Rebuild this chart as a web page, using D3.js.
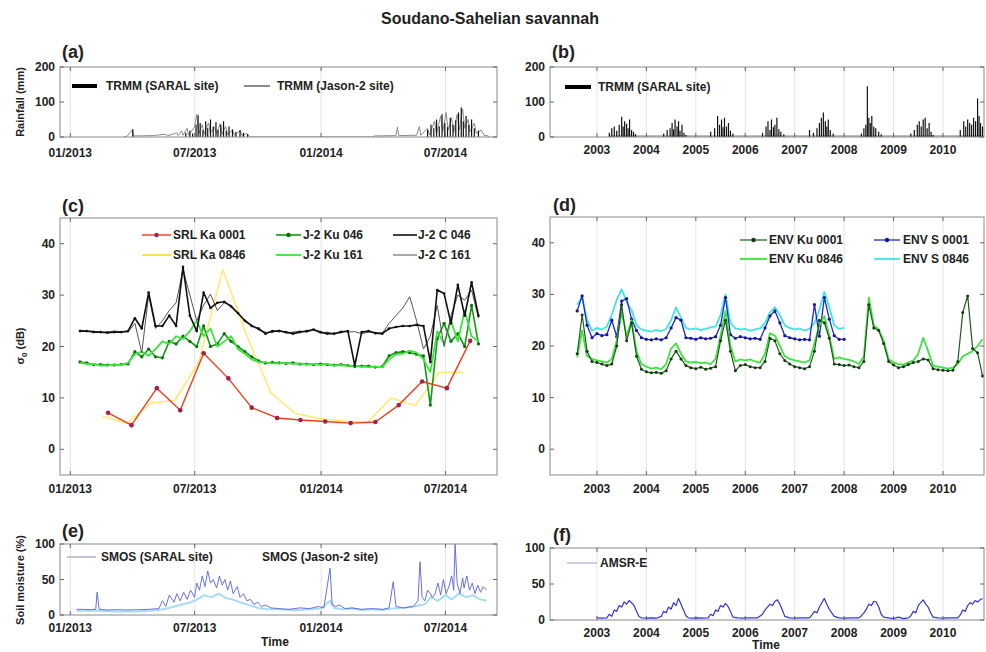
<!DOCTYPE html>
<html>
<head>
<meta charset="utf-8">
<script src="https://cdn.jsdelivr.net/npm/d3@7"></script>
<style>
  body { margin: 0; background: #fff; }
  text { font-family: "Liberation Sans", Arial, sans-serif; font-weight: bold; fill: #222; }
</style>
</head>
<body>
<svg width="986" height="652"></svg>
<script>
// ---------- data ----------
// (a) TRMM daily rainfall (mm), SARAL site (stems) and Jason-2 site (line)
var rainSaral = [
  ["2013-04-02",22],["2013-06-18",12],["2013-06-24",18],["2013-06-28",10],["2013-07-03",35],["2013-07-06",62],
  ["2013-07-09",40],["2013-07-13",20],["2013-07-17",45],["2013-07-20",25],["2013-07-24",50],["2013-07-28",30],
  ["2013-08-01",42],["2013-08-04",20],["2013-08-08",35],["2013-08-12",45],["2013-08-16",18],["2013-08-20",30],
  ["2013-08-25",22],["2013-08-30",15],["2013-09-05",20],["2013-09-10",12],["2013-09-16",8],
  ["2014-06-05",20],["2014-06-10",35],["2014-06-14",25],["2014-06-18",50],["2014-06-22",30],["2014-06-26",65],
  ["2014-06-30",40],["2014-07-04",28],["2014-07-08",55],["2014-07-12",35],["2014-07-16",48],["2014-07-20",70],
  ["2014-07-24",84],["2014-07-27",45],["2014-07-31",60],["2014-08-04",35],["2014-08-08",50],["2014-08-12",25],
  ["2014-08-18",18]
];
var rainJason = [
  ["2013-03-20",0],["2013-03-25",3],["2013-04-01",20],["2013-04-03",3],["2013-05-01",4],["2013-05-20",8],
  ["2013-05-22",3],["2013-06-05",12],["2013-06-07",4],["2013-06-12",18],["2013-06-14",5],["2013-06-20",25],
  ["2013-06-22",5],["2013-07-01",30],["2013-07-04",65],["2013-07-07",10],["2013-07-12",35],["2013-07-15",8],
  ["2013-07-21",40],["2013-07-24",12],["2013-07-30",28],["2013-08-02",10],["2013-08-07",38],["2013-08-10",8],
  ["2013-08-15",30],["2013-08-18",6],["2013-08-25",20],["2013-08-28",5],["2013-09-05",18],["2013-09-08",4],
  ["2013-09-15",10],["2013-09-18",3],["2013-09-20",0],
  ["2014-03-15",0],["2014-03-20",3],["2014-04-20",4],["2014-04-22",28],["2014-04-24",4],["2014-05-20",5],
  ["2014-05-24",30],["2014-05-26",5],["2014-06-05",25],["2014-06-08",6],["2014-06-15",45],["2014-06-18",10],
  ["2014-06-24",60],["2014-06-27",15],["2014-07-02",70],["2014-07-05",20],["2014-07-10",55],["2014-07-13",12],
  ["2014-07-18",65],["2014-07-21",20],["2014-07-26",80],["2014-07-29",25],["2014-08-03",50],["2014-08-06",15],
  ["2014-08-12",40],["2014-08-15",10],["2014-08-22",20],["2014-08-26",5],["2014-09-01",3],["2014-09-03",0]
];

// (b) TRMM rainfall at SARAL site, 2002-2010 (decimal year, mm)
var rainLong = [
  [2003.25,12],[2003.3,25],[2003.35,30],[2003.4,18],[2003.45,35],[2003.5,58],[2003.53,30],[2003.56,45],[2003.6,38],[2003.63,25],[2003.66,50],[2003.7,20],[2003.74,15],[2003.78,8],
  [2004.35,10],[2004.42,20],[2004.48,25],[2004.52,40],[2004.55,22],[2004.58,50],[2004.62,30],[2004.65,45],[2004.68,18],[2004.72,35],[2004.76,12],[2004.8,6],
  [2005.3,15],[2005.38,25],[2005.44,60],[2005.48,35],[2005.52,50],[2005.55,28],[2005.58,55],[2005.62,30],[2005.66,40],[2005.7,18],[2005.75,10],
  [2006.35,12],[2006.42,30],[2006.46,45],[2006.5,20],[2006.53,50],[2006.57,28],[2006.6,35],[2006.64,55],[2006.68,22],[2006.72,15],[2006.78,8],
  [2007.3,20],[2007.38,12],[2007.45,25],[2007.5,40],[2007.54,55],[2007.58,70],[2007.62,45],[2007.65,30],[2007.68,50],[2007.72,20],[2007.78,10],
  [2008.35,10],[2008.4,25],[2008.44,35],[2008.47,145],[2008.5,55],[2008.53,40],[2008.56,60],[2008.6,30],[2008.64,25],[2008.7,15],[2008.75,8],
  [2009.35,10],[2009.42,20],[2009.48,35],[2009.52,45],[2009.56,30],[2009.6,50],[2009.64,55],[2009.68,25],[2009.72,40],[2009.76,15],[2009.8,6],
  [2010.35,20],[2010.42,45],[2010.46,30],[2010.5,50],[2010.54,40],[2010.58,35],[2010.62,55],[2010.66,45],[2010.7,110],[2010.73,60],[2010.76,40],[2010.8,30]
];

// (c) backscatter sigma0 (dB)
var srlDates0001 = ["2013-02-25","2013-03-31","2013-05-07","2013-06-10","2013-07-14","2013-08-19","2013-09-22","2013-10-29",
  "2013-12-02","2014-01-07","2014-02-13","2014-03-21","2014-04-24","2014-05-28","2014-07-03","2014-08-06"];
var srlKa0001 = [7.1,4.7,11.9,7.6,18.7,13.8,8.1,6.1,5.7,5.4,5.1,5.3,8.6,13.2,11.9,21.1];
var srlDates0846 = ["2013-02-17","2013-03-24","2013-04-28","2013-06-02","2013-07-07","2013-08-11","2013-09-15","2013-10-20",
  "2013-11-24","2013-12-29","2014-02-02","2014-03-09","2014-04-13","2014-05-18","2014-06-22","2014-07-27"];
var srlKa0846 = [6.5,5,9,9.5,17,35,22,11,7,6,5.5,5.2,10,8.5,15,15];

var j2Dates = ["2013-01-15","2013-01-25","2013-02-04","2013-02-14","2013-02-24","2013-03-06","2013-03-16","2013-03-26",
  "2013-04-05","2013-04-15","2013-04-25","2013-05-05","2013-05-15","2013-05-25","2013-06-04","2013-06-14","2013-06-24",
  "2013-07-04","2013-07-14","2013-07-24","2013-08-03","2013-08-13","2013-08-23","2013-09-02","2013-09-12","2013-09-22",
  "2013-10-02","2013-10-12","2013-10-22","2013-11-01","2013-11-11","2013-11-21","2013-12-01","2013-12-11","2013-12-21",
  "2013-12-31","2014-01-10","2014-01-20","2014-01-30","2014-02-09","2014-02-19","2014-03-01","2014-03-11","2014-03-21",
  "2014-03-31","2014-04-10","2014-04-20","2014-04-30","2014-05-10","2014-05-20","2014-05-30","2014-06-09","2014-06-19",
  "2014-06-29","2014-07-09","2014-07-19","2014-07-29","2014-08-08","2014-08-18"];
var j2Ku046 = [17,16.8,16.5,16.5,16.4,16.4,16.5,16.6,19,18,19.5,18,17.8,21,20.5,22,21,20,24,20,20.5,22.5,21,20,19,18,
  17.2,16.8,16.9,16.8,16.7,16.8,16.6,16.6,16.5,16.6,16.5,16.4,16.5,16.3,16.1,16.2,16.2,16,16.1,18.2,18.8,19,18.8,18.5,
  18.2,8.6,21.5,24.5,21,22.5,20,28,20.5];
var j2Ku161 = [16.8,16.6,16.6,16.3,16.3,16.5,16.4,16.8,18.5,19,18.2,19.5,21,20.5,22,21.5,23,25,22,23.5,20,21,22,19.5,
  18.6,17.5,17,16.9,16.7,16.7,16.8,16.6,16.7,16.5,16.6,16.4,16.6,16.3,16.4,16.2,16.2,16.1,16,16.1,16,17.5,18.5,18.6,
  19.2,18.8,17.5,15,23,20.5,25,21,27,22,21];
var j2C046 = [23,23,22.8,22.8,22.7,22.8,22.8,23,25.5,23.5,30.5,24,24,26,24,35.5,26,23,30.5,27.5,28.5,28.7,27.8,26.5,
  25,24,23.5,22.5,23,23,22.8,22.5,22.8,23,23.3,22.8,22.5,22.5,22.8,23,16.3,22.8,23,22.6,22.5,23.5,23.8,24,24,24.2,24,
  17,31,30.3,24.5,32,26,32.5,26];
var j2C161 = [23.2,23,23,22.7,22.8,23,22.9,22.8,24.5,18.8,30,23.5,25,27,28.5,35,30,25,28,30.2,27,28.5,28,26.3,25.2,
  24.2,23.2,22.8,22.7,23.2,22.6,22.8,23,22.8,23.2,22.6,22.8,22.4,23,22.8,22.9,22.5,22.8,22.7,22.6,24.5,26,27.5,29.7,
  25,19.5,22,28,20,26,30,29,31,25.5];

// (d) ENVISAT, one value per 35-day cycle (decimal year)
var envYears = [2002.6,2002.7,2002.8,2002.9,
  2003.0,2003.1,2003.2,2003.3,2003.4,2003.5,2003.6,2003.7,2003.8,2003.9,
  2004.0,2004.1,2004.2,2004.3,2004.4,2004.5,2004.6,2004.7,2004.8,2004.9,
  2005.0,2005.1,2005.2,2005.3,2005.4,2005.5,2005.6,2005.7,2005.8,2005.9,
  2006.0,2006.1,2006.2,2006.3,2006.4,2006.5,2006.6,2006.7,2006.8,2006.9,
  2007.0,2007.1,2007.2,2007.3,2007.4,2007.5,2007.6,2007.7,2007.8,2007.9,
  2008.0,2008.1,2008.2,2008.3,2008.4,2008.5,2008.6,2008.7,2008.8,2008.9,
  2009.0,2009.1,2009.2,2009.3,2009.4,2009.5,2009.6,2009.7,2009.8,2009.9,
  2010.0,2010.1,2010.2,2010.3,2010.4,2010.5,2010.6,2010.7,2010.8];
var envKu0001 = [18.5,26,19,17,
  16.8,16.5,16.2,16.5,20,28,21,24.5,18,15.5,
  15,14.8,14.9,14.7,15.2,17.5,19,17.5,16.2,15.8,
  15.6,15.9,15.5,15.7,16,21,25,19,15.2,16.2,
  16.4,16,15.8,15.8,17,21.5,21,18.5,17.2,16.5,
  16,15.8,15.6,16,19,25,24.5,21.5,16.5,16.4,
  16.2,16.3,16,15.8,17,28,23.5,23,20.5,17,
  16.3,15.8,16,16.4,16.8,17,17.5,17.3,15.6,15.4,
  15.3,15.2,15.3,17,26.5,29.7,19.5,18.7,14.2];
var envKu0846 = [17.8,23,18,17.5,
  17.2,17,16.8,17.5,21,26.5,22,25,19,16.5,
  16,15.6,15.8,15.5,16.5,19.5,20.5,18.5,17,16.8,
  16.9,16.7,16.8,16.5,17.5,22,26.8,20,17,17.4,
  17.2,17.4,17,16.8,18.5,22.5,22,20,18,17.5,
  17.2,17,16.8,17.2,20.5,24,25.8,22,17.5,17.8,
  17.5,17.3,17,16.5,18,29.4,24,23.2,21,17.5,
  16.8,16.5,16.4,16.8,17.2,18.5,21.6,19,16.2,16,
  15.8,15.6,15.8,16.5,18,18.5,19,20,21.3];
var envS0001 = [26.8,29.7,24,21.6,
  22.4,22,22.2,25,21.8,28.7,29.2,25.2,23,21.6,
  21.3,21.2,21.4,21.2,21.6,23.5,25.5,25,21.6,21.5,
  21.3,21.6,21.4,21.5,21.8,24,29.4,22.2,21.5,21.8,
  21.6,21.4,21.5,21.3,23.5,25.8,26.8,24.5,22,21.6,
  21.4,21.2,21.3,21.2,28,21.9,29.4,25.2,22,21.3,
  21.3];
var envS0846 = [28,29.5,25,23,
  23.5,23.2,23.8,26,29,31,28.5,27,24,23.2,
  23,22.8,23.1,22.9,23.3,25,27.5,25.5,23.5,23.2,
  23.4,23.1,23.3,23.6,23.8,26,30,24.5,23.4,23.2,
  23.3,23,23.2,23.4,24.5,26.5,27.5,26,24,23.5,
  23.2,23.4,23,23.3,24.5,27,30.5,27.5,24,23.3,
  23.5];

// (e) SMOS soil moisture (%)
var smosSaral = [
  ["2013-01-10",8],["2013-01-20",8],["2013-01-30",7.5],["2013-02-07",8],["2013-02-09",32],["2013-02-12",8],["2013-02-25",7],
  ["2013-03-10",7.5],["2013-03-25",7],["2013-04-10",7.5],["2013-04-25",8],["2013-05-10",9],["2013-05-15",20],["2013-05-20",12],
  ["2013-05-25",28],["2013-06-01",18],["2013-06-05",30],["2013-06-10",20],["2013-06-15",32],["2013-06-20",22],["2013-06-25",35],
  ["2013-07-01",25],["2013-07-04",45],["2013-07-08",35],["2013-07-12",55],["2013-07-16",40],["2013-07-20",62],["2013-07-24",45],
  ["2013-07-28",50],["2013-08-02",38],["2013-08-06",55],["2013-08-10",42],["2013-08-14",50],["2013-08-18",35],["2013-08-22",48],
  ["2013-08-26",30],["2013-09-01",40],["2013-09-05",25],["2013-09-10",30],["2013-09-15",20],["2013-09-20",22],["2013-09-25",15],
  ["2013-10-01",18],["2013-10-06",12],["2013-10-12",14],["2013-10-20",10],["2013-11-01",9],["2013-11-15",8],["2013-12-01",10],
  ["2013-12-15",9],["2013-12-28",12],["2014-01-05",10],["2014-01-14",66],["2014-01-17",15],["2014-01-22",12],["2014-01-28",14],
  ["2014-02-05",9],["2014-02-15",10],["2014-03-01",8],["2014-03-15",9],["2014-04-01",8],["2014-04-10",10],["2014-04-16",47],
  ["2014-04-20",12],["2014-05-01",10],["2014-05-15",12],["2014-05-22",20],["2014-05-25",75],["2014-05-28",25],["2014-06-01",20],
  ["2014-06-05",35],["2014-06-09",30],["2014-06-12",25],["2014-06-16",30],["2014-06-20",45],["2014-06-24",28],["2014-06-28",50],
  ["2014-07-02",30],["2014-07-06",40],["2014-07-10",55],["2014-07-13",35],["2014-07-15",100],["2014-07-18",45],["2014-07-22",30],
  ["2014-07-26",52],["2014-07-28",38],["2014-08-01",55],["2014-08-05",35],["2014-08-09",45],["2014-08-13",30],["2014-08-17",42],
  ["2014-08-21",32],["2014-08-25",40],["2014-08-30",35]
];
var smosJason = [
  ["2013-01-10",6],["2013-02-10",6],["2013-03-10",5],["2013-04-10",5],["2013-05-10",7],["2013-05-25",10],["2013-06-10",14],
  ["2013-06-25",18],["2013-07-05",22],["2013-07-15",28],["2013-07-25",25],["2013-08-05",30],["2013-08-15",24],["2013-08-25",22],
  ["2013-09-05",18],["2013-09-15",15],["2013-10-01",10],["2013-10-15",8],["2013-11-01",8],["2013-11-15",7],["2013-12-01",7],
  ["2013-12-15",8],["2014-01-01",9],["2014-01-14",20],["2014-01-20",10],["2014-02-01",8],["2014-02-15",9],["2014-03-01",7],
  ["2014-03-15",8],["2014-04-01",7],["2014-04-15",9],["2014-05-01",10],["2014-05-15",12],["2014-06-01",15],["2014-06-10",25],
  ["2014-06-20",20],["2014-07-01",28],["2014-07-10",22],["2014-07-20",30],["2014-08-01",25],["2014-08-10",28],["2014-08-20",22],
  ["2014-08-30",20]
];

// (f) AMSR-E soil moisture (%), decimal year
var amsrE = [
  [2003.0,3],[2003.1,2.5],[2003.2,3],[2003.25,8],[2003.3,5],[2003.35,14],[2003.4,12],[2003.45,20],[2003.5,18],[2003.55,25],
  [2003.6,22],[2003.65,27],[2003.7,24],[2003.75,20],[2003.8,12],[2003.85,5],[2003.9,3],[2004.0,2.5],[2004.1,3],[2004.2,2.5],
  [2004.3,5],[2004.35,12],[2004.4,10],[2004.45,18],[2004.5,15],[2004.55,24],[2004.6,20],[2004.65,30],[2004.7,22],[2004.75,14],
  [2004.8,6],[2004.85,3],[2004.95,2.5],[2005.05,3],[2005.15,2.5],[2005.25,3],
  [2005.3,8],[2005.35,6],[2005.4,14],[2005.45,12],[2005.5,20],[2005.55,18],[2005.6,23],[2005.65,19],[2005.7,12],[2005.75,4],
  [2005.85,3],[2005.95,2.5],[2006.1,3],[2006.25,3],
  [2006.35,8],[2006.4,14],[2006.45,18],[2006.5,22],[2006.55,20],[2006.6,26],[2006.65,28],[2006.7,22],[2006.75,14],[2006.8,5],
  [2006.9,3],[2007.0,2.5],[2007.15,3],[2007.3,3],
  [2007.35,7],[2007.4,12],[2007.45,10],[2007.5,18],[2007.55,24],[2007.6,30],[2007.65,22],[2007.7,15],[2007.75,10],[2007.8,5],
  [2007.9,3],[2008.0,2.5],[2008.15,3],[2008.3,3],
  [2008.35,6],[2008.4,10],[2008.45,15],[2008.5,22],[2008.55,20],[2008.6,26],[2008.65,25],[2008.7,18],[2008.75,8],[2008.8,4],
  [2008.9,3],[2009.0,2],[2009.1,4],[2009.2,2],[2009.3,3],
  [2009.35,6],[2009.4,12],[2009.45,10],[2009.5,20],[2009.55,24],[2009.6,28],[2009.65,22],[2009.7,18],[2009.75,10],[2009.8,4],
  [2009.9,3],[2010.0,2.5],[2010.15,3],[2010.3,3],
  [2010.35,7],[2010.4,14],[2010.45,12],[2010.5,20],[2010.55,24],[2010.6,22],[2010.65,27],[2010.7,25],[2010.75,28],[2010.8,30]
];

// tick labels
var leftTicks = ["2013-01-01","2013-07-01","2014-01-01","2014-07-01"];
var rightTicks = [2003,2004,2005,2006,2007,2008,2009,2010];

// ---------- drawing ----------
var svg = d3.select("svg");
var parseDate = d3.timeParse("%Y-%m-%d");
var fmtMonth = d3.timeFormat("%m/%Y");

var xLeft = d3.scaleTime().domain([parseDate("2012-12-17"), parseDate("2014-09-14")]).range([60, 497]);
var xRight = d3.scaleLinear().domain([2002.05, 2010.83]).range([550, 984]);
var leftTickDates = leftTicks.map(parseDate);

function makePanel(name, x, y, xticks, xfmt, yticks, labelDy) {
  var xr = x.range(), yr = y.range();  // yr = [bottom, top]
  var g = svg.append("g").attr("class", "panel-" + name);
  svg.append("clipPath").attr("id", "clip-" + name).append("rect")
      .attr("x", xr[0]).attr("y", yr[1]).attr("width", xr[1] - xr[0]).attr("height", yr[0] - yr[1]);

  // faint vertical grid
  g.append("g").selectAll("line").data(xticks).enter().append("line")
      .attr("x1", function(d) { return x(d); }).attr("x2", function(d) { return x(d); })
      .attr("y1", yr[0]).attr("y2", yr[1])
      .attr("stroke", "#e4e4e4").attr("stroke-width", 1);

  var plot = g.append("g").attr("clip-path", "url(#clip-" + name + ")");
  var front = g.append("g");

  // box + ticks
  front.append("rect").attr("x", xr[0]).attr("y", yr[1]).attr("width", xr[1] - xr[0]).attr("height", yr[0] - yr[1])
      .attr("fill", "none").attr("stroke", "#8a8a8a").attr("stroke-width", 1);
  xticks.forEach(function(t) {
    front.append("line").attr("x1", x(t)).attr("x2", x(t)).attr("y1", yr[0]).attr("y2", yr[0] - 4).attr("stroke", "#666");
    front.append("line").attr("x1", x(t)).attr("x2", x(t)).attr("y1", yr[1]).attr("y2", yr[1] + 4).attr("stroke", "#666");
    front.append("text").attr("x", x(t)).attr("y", yr[0] + labelDy).attr("text-anchor", "middle")
        .attr("font-size", "12px").text(xfmt(t));
  });
  yticks.forEach(function(t) {
    front.append("line").attr("x1", xr[0]).attr("x2", xr[0] + 4).attr("y1", y(t)).attr("y2", y(t)).attr("stroke", "#666");
    front.append("line").attr("x1", xr[1]).attr("x2", xr[1] - 4).attr("y1", y(t)).attr("y2", y(t)).attr("stroke", "#666");
    front.append("text").attr("x", xr[0] - 5).attr("y", y(t) + 4).attr("text-anchor", "end")
        .attr("font-size", "12px").text(t);
  });
  return { plot: plot, front: front, x: x, y: y };
}

function drawLine(p, pts, color, width, marker, mr, opacity) {
  var line = d3.line().x(function(d) { return p.x(d[0]); }).y(function(d) { return p.y(d[1]); });
  p.plot.append("path").datum(pts).attr("d", line).attr("fill", "none")
      .attr("stroke", color).attr("stroke-width", width).attr("stroke-linejoin", "round")
      .attr("opacity", opacity || 1);
  if (marker) {
    p.plot.append("g").selectAll("circle").data(pts).enter().append("circle")
        .attr("cx", function(d) { return p.x(d[0]); }).attr("cy", function(d) { return p.y(d[1]); })
        .attr("r", mr).attr("fill", marker);
  }
}

function drawStems(p, pts, color, width) {
  p.plot.append("g").selectAll("line").data(pts).enter().append("line")
      .attr("x1", function(d) { return p.x(d[0]); }).attr("x2", function(d) { return p.x(d[0]); })
      .attr("y1", p.y(0)).attr("y2", function(d) { return p.y(d[1]); })
      .attr("stroke", color).attr("stroke-width", width);
}

function legendItem(g, x1, x2, yy, color, width, marker, label, textX) {
  g.append("line").attr("x1", x1).attr("x2", x2).attr("y1", yy).attr("y2", yy)
      .attr("stroke", color).attr("stroke-width", width);
  if (marker) g.append("circle").attr("cx", (x1 + x2) / 2).attr("cy", yy).attr("r", 2.2).attr("fill", marker);
  g.append("text").attr("x", textX).attr("y", yy + 4).attr("font-size", "12px").text(label);
}

function zip(dates, vals) { return vals.map(function(v, i) { return [dates[i], v]; }); }
function byDate(arr) { return arr.map(function(d) { return [parseDate(d[0]), d[1]]; }); }

// title
svg.append("text").attr("x", 490).attr("y", 24).attr("text-anchor", "middle")
    .attr("font-size", "16px").text("Soudano-Sahelian savannah");

// panel letters
[["(a)", 62, 58], ["(b)", 552, 58], ["(c)", 62, 212], ["(d)", 553, 211], ["(e)", 62, 537], ["(f)", 553, 541]]
  .forEach(function(l) {
    svg.append("text").attr("x", l[1]).attr("y", l[2]).attr("font-size", "18px").text(l[0]);
  });

// y labels
svg.append("text").attr("transform", "translate(24,102) rotate(-90)").attr("text-anchor", "middle")
    .attr("font-size", "11px").text("Rainfall (mm)");
var sig = svg.append("text").attr("transform", "translate(24,346) rotate(-90)").attr("text-anchor", "middle")
    .attr("font-size", "11px");
sig.append("tspan").text("\u03C3");
sig.append("tspan").attr("font-size", "8px").attr("dy", 3).text("0");
sig.append("tspan").attr("dy", -3).text(" (dB)");
svg.append("text").attr("transform", "translate(24,580) rotate(-90)").attr("text-anchor", "middle")
    .attr("font-size", "11px").text("Soil moisture (%)");

// ---- (a)
var pa = makePanel("a", xLeft, d3.scaleLinear().domain([0, 200]).range([137, 67]),
    leftTickDates, fmtMonth, [0, 100, 200], 20);
drawLine(pa, byDate(rainJason), "#8c8c8c", 1);
drawStems(pa, byDate(rainSaral), "#111", 1.2);
legendItem(pa.front, 72, 97, 86, "#000", 4, null, "TRMM (SARAL site)", 106);
legendItem(pa.front, 244, 270, 86, "#8c8c8c", 2, null, "TRMM (Jason-2 site)", 277);

// ---- (b)
var pb = makePanel("b", xRight, d3.scaleLinear().domain([0, 200]).range([137, 67]),
    rightTicks, d3.format("d"), [0, 100, 200], 17);
pb.plot.append("line").attr("x1", xRight(d3.min(rainLong, function(d) { return d[0]; })))
    .attr("x2", xRight(d3.max(rainLong, function(d) { return d[0]; })))
    .attr("y1", pb.y(0) - 1).attr("y2", pb.y(0) - 1).attr("stroke", "#555").attr("stroke-width", 0.8);
drawStems(pb, rainLong, "#111", 1.2);
legendItem(pb.front, 565, 591, 87, "#000", 4, null, "TRMM (SARAL site)", 598);

// ---- (c)
var pc = makePanel("c", xLeft, d3.scaleLinear().domain([-5, 45]).range([475, 218]),
    leftTickDates, fmtMonth, [0, 10, 20, 30, 40], 18);
var j2d = j2Dates.map(parseDate);
drawLine(pc, zip(srlDates0846.map(parseDate), srlKa0846), "#ffe14a", 1.6, null, 0, 0.75);
drawLine(pc, zip(j2d, j2Ku046), "#129a12", 1.6, "#0b6e0b", 1.6);
drawLine(pc, zip(j2d, j2Ku161), "#3fe23f", 1.8);
drawLine(pc, zip(j2d, j2C161), "#555", 1);
drawLine(pc, zip(j2d, j2C046), "#111", 1.6, "#111", 1.3);
drawLine(pc, zip(srlDates0001.map(parseDate), srlKa0001), "#e8401c", 1.4, "#a3204a", 2.3);
legendItem(pc.front, 142, 171, 235, "#e8401c", 1.4, "#a3204a", "SRL Ka 0001", 173);
legendItem(pc.front, 142, 171, 255, "#ffe14a", 2, null, "SRL Ka 0846", 173);
legendItem(pc.front, 276, 301, 235, "#129a12", 1.6, "#0b6e0b", "J-2 Ku 046", 303);
legendItem(pc.front, 276, 301, 255, "#3fe23f", 1.8, null, "J-2 Ku 161", 303);
legendItem(pc.front, 393, 417, 235, "#111", 1.6, null, "J-2 C 046", 418);
legendItem(pc.front, 393, 417, 255, "#555", 1, null, "J-2 C 161", 418);

// ---- (d)
var pd = makePanel("d", xRight, d3.scaleLinear().domain([-5, 45]).range([475, 217]),
    rightTicks, d3.format("d"), [0, 10, 20, 30, 40], 18);
drawLine(pd, zip(envYears, envS0846), "#3ee6e6", 1.8);
drawLine(pd, zip(envYears, envS0001), "#2424d0", 1.3, "#16169a", 1.6);
drawLine(pd, zip(envYears, envKu0846), "#3fe23f", 1.8);
drawLine(pd, zip(envYears, envKu0001), "#1e5a1e", 1.2, "#123c12", 1.5);
legendItem(pd.front, 740, 767, 240, "#1e5a1e", 1.2, "#123c12", "ENV Ku 0001", 769);
legendItem(pd.front, 740, 767, 259, "#3fe23f", 1.8, null, "ENV Ku 0846", 769);
legendItem(pd.front, 874, 900, 240, "#2424d0", 1.3, "#16169a", "ENV S 0001", 903);
legendItem(pd.front, 874, 900, 259, "#3ee6e6", 1.8, null, "ENV S 0846", 903);

// ---- (e)
var pe = makePanel("e", xLeft, d3.scaleLinear().domain([0, 100]).range([615, 544]),
    leftTickDates, fmtMonth, [0, 50, 100], 17);
drawLine(pe, byDate(smosJason), "#a8dcf2", 2);
drawLine(pe, byDate(smosSaral), "#5a62d6", 0.9);
legendItem(pe.front, 67, 96, 557, "#8a8fb0", 1, null, "SMOS (SARAL site)", 101);
pe.front.append("text").attr("x", 262).attr("y", 561).attr("font-size", "12px").text("SMOS (Jason-2 site)");
svg.append("text").attr("x", 275).attr("y", 646).attr("text-anchor", "middle").attr("font-size", "12px").text("Time");

// ---- (f)
var pf = makePanel("f", xRight, d3.scaleLinear().domain([0, 100]).range([620, 548]),
    rightTicks, d3.format("d"), [0, 50, 100], 17);
drawLine(pf, amsrE, "#3434d6", 1.2);
legendItem(pf.front, 567, 597, 563, "#9a9ac8", 1, null, "AMSR-E", 600);
svg.append("text").attr("x", 766).attr("y", 649).attr("text-anchor", "middle").attr("font-size", "12px").text("Time");
</script>
</body>
</html>
